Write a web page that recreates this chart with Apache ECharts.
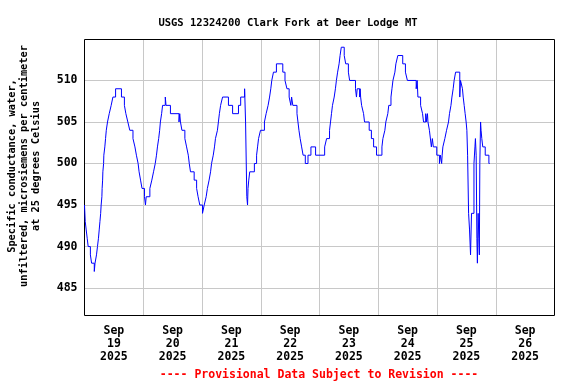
<!DOCTYPE html>
<html>
<head>
<meta charset="utf-8">
<script src="https://cdn.jsdelivr.net/npm/echarts@6/dist/echarts.min.js"></script>
<style>
html,body{margin:0;padding:0;background:#fff;}
#chart{width:576px;height:384px;}
</style>
</head>
<body>
<div id="chart"></div>
<script>
// Hours since 2025-09-19 00:00 at which the reading changes, and the reading (µS/cm)
const hours = [
  0.0,0.3,0.7,1.1,1.5,2.4,2.9,4.0,4.3,4.9,5.3,5.7,6.0,6.3,6.6,6.8,7.1,7.2,7.4,7.5,7.8,7.9,8.3,8.6,8.9,9.4,10.1,10.9,11.6,12.7,
  15.1,16.3,16.9,17.7,18.5,19.8,20.6,21.2,21.9,22.3,22.9,23.5,24.5,24.9,25.2,26.7,27.5,28.2,28.9,29.4,29.8,30.3,30.7,31.0,31.5,31.9,
  33.0,33.3,35.1,38.6,38.9,39.2,39.8,41.0,41.7,42.4,42.8,43.3,44.8,45.8,46.4,47.1,48.2,48.9,49.7,50.2,50.9,51.5,51.9,52.6,53.1,53.5,
  54.3,54.7,55.1,55.6,56.4,58.8,60.5,62.9,63.8,65.4,65.8,66.3,66.6,66.8,67.1,67.5,69.4,70.3,70.7,71.1,71.9,73.5,74.2,75.0,75.6,76.1,
  76.5,77.2,78.4,81.0,81.9,82.7,83.6,84.3,84.6,85.1,86.8,87.2,87.6,88.1,88.7,89.3,90.2,91.3,92.5,94.4,98.1,98.9,100.1,100.5,100.9,
  101.3,102.0,102.5,102.9,103.4,104.0,104.4,104.9,106.1,106.7,107.8,108.3,110.7,111.1,111.4,112.4,112.6,112.8,113.2,114.0,114.4,
  116.3,117.2,118.1,119.3,121.5,121.9,122.7,123.1,123.9,124.3,125.2,125.6,126.0,126.8,127.2,128.0,130.0,131.1,131.9,135.5,135.9,
  136.2,137.3,138.1,138.5,139.4,139.6,140.1,140.3,140.9,141.7,142.1,142.5,143.9,145.0,145.4,145.9,146.1,146.4,147.2,147.9,148.7,
  149.1,149.7,150.1,150.6,151.0,151.6,153.3,153.6,154.4,154.7,155.1,155.5,155.9,156.2,156.5,156.9,157.3,157.7,158.1,159.1,159.5,
  159.7,160.0,160.3,160.5,160.8,161.1,161.3,161.5,161.8,162.0,162.3,162.7,163.7,165.2,165.5
];
const values = [
  495,493,492,491,490,489,488,487,488,489,490,491,492,493,494,495,496,497,498,499,500,501,502,503,504,505,506,507,508,509,
  508,507,506,505,504,503,502,501,500,499,498,497,496,495,496,497,498,499,500,501,502,503,504,505,506,507,
  508,507,506,505,506,505,504,503,502,501,500,499,498,497,496,495,494,495,496,497,498,499,500,501,502,503,
  504,505,506,507,508,507,506,507,508,509,505,496,495,497,498,499,500,501,502,503,504,505,506,507,508,509,
  510,511,512,511,510,509,508,507,508,507,506,505,504,503,502,501,500,501,502,501,502,503,504,505,506,
  507,508,509,510,511,512,513,514,513,512,511,510,509,508,509,508,509,508,507,506,505,
  504,503,502,501,502,503,504,505,506,507,508,509,510,511,512,513,512,511,510,509,510,
  508,507,506,505,506,505,506,505,504,502,503,502,501,500,501,500,501,502,503,504,505,
  506,507,508,509,510,511,508,510,509,508,507,506,505,504,501,494,492,489,494,500,502,
  503,501,491,488,494,491,489,500,505,504,503,502,501,500,500
];
const dayLabels = ['Sep\n19\n2025','Sep\n20\n2025','Sep\n21\n2025','Sep\n22\n2025','Sep\n23\n2025','Sep\n24\n2025','Sep\n25\n2025','Sep\n26\n2025'];
const yTicks = [485,490,495,500,505,510];

const FONT = 'DejaVu Sans Mono';
const chart = echarts.init(document.getElementById('chart'), null, {renderer:'canvas'});
chart.setOption({
  animation:false,
  backgroundColor:'#ffffff',
  title:{
    text:'USGS 12324200 Clark Fork at Deer Lodge MT',
    left:'center', top:13,
    textStyle:{fontFamily:FONT,fontWeight:'bold',fontSize:10.5,color:'#000'}
  },
  graphic:[{
    type:'text', x:319, y:375,
    style:{text:'---- Provisional Data Subject to Revision ----',fill:'#ff0000',
      align:'center', verticalAlign:'middle',
      font:'bold 11.5px "DejaVu Sans Mono"'}
  }],
  grid:{left:84.5,right:21.5,top:39.5,bottom:68.5,show:true,borderColor:'#000',borderWidth:1,
    containLabel:false, outerBoundsMode:'none', z:3},
  xAxis:[{
    type:'value', min:0, max:192, interval:24,
    axisLine:{show:false}, axisTick:{show:false}, axisLabel:{show:false},
    splitLine:{show:true,showMinLine:false,showMaxLine:false,lineStyle:{color:'#c8c8c8',width:1}}
  },{
    type:'category', position:'bottom', data:dayLabels, boundaryGap:true,
    axisLine:{show:false}, axisTick:{show:false}, splitLine:{show:false},
    axisLabel:{margin:9,fontFamily:FONT,fontWeight:'bold',fontSize:11.5,lineHeight:13,color:'#000',interval:0}
  }],
  yAxis:{
    type:'value', min:481.7, max:514.93, splitNumber:6,
    name:'Specific conductance, water,\nunfiltered, microsiemens per centimeter\nat 25 degrees Celsius',
    nameLocation:'middle', nameGap:42, nameRotate:90,
    nameTextStyle:{fontFamily:FONT,fontWeight:'bold',fontSize:10.3,lineHeight:12,color:'#000',align:'center',
      padding:[0,0,0,23]},
    axisLine:{show:false}, axisTick:{show:false},
    axisLabel:{showMinLabel:false,showMaxLabel:false,margin:7,fontFamily:FONT,fontWeight:'bold',fontSize:11.5,color:'#000',
      formatter:function(v){return yTicks.indexOf(Math.round(v))>=0?String(Math.round(v)):'';}},
    splitLine:{show:true,showMinLine:false,showMaxLine:false,lineStyle:{color:'#c8c8c8',width:1}}
  },
  series:[{
    type:'line', xAxisIndex:0, step:'end', showSymbol:false, symbol:'none',
    lineStyle:{color:'#0000ff',width:1},
    data:hours.map(function(h,i){return [h,values[i]];})
  }]
});
</script>
</body>
</html>
